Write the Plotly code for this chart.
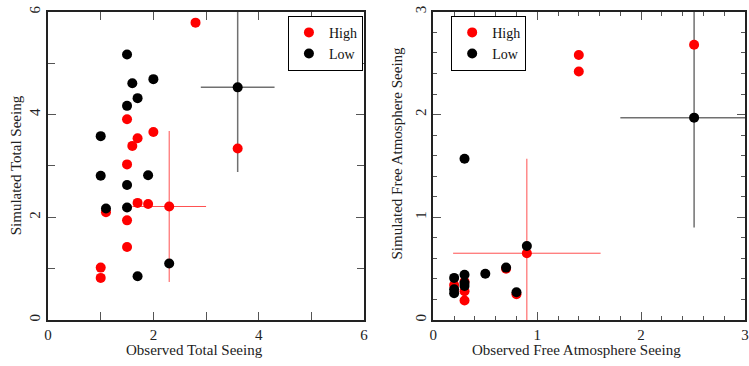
import plotly.graph_objects as go

# ---------------- Data ----------------
# Left panel: Observed vs Simulated Total Seeing
tot_high_x = [2.8, 1.5, 2.0, 1.7, 1.6, 3.6, 1.5, 1.7, 1.9, 2.3, 1.1, 1.5, 1.5, 1.0, 1.0]
tot_high_y = [5.79, 3.91, 3.66, 3.54, 3.39, 3.34, 3.03, 2.28, 2.26, 2.21, 2.10, 1.94, 1.42, 1.02, 0.82]
tot_low_x = [1.5, 1.6, 2.0, 1.7, 1.5, 1.0, 3.6, 1.0, 1.9, 1.5, 1.1, 1.5, 2.3, 1.7]
tot_low_y = [5.17, 4.61, 4.69, 4.32, 4.17, 3.58, 4.53, 2.81, 2.82, 2.63, 2.17, 2.19, 1.10, 0.85]

# error bars (one point per group)
tot_high_err_x = [2.3]
tot_high_err_y = [2.21]
tot_high_err_dx = [0.7]
tot_high_err_dy = [1.47]
tot_low_err_x = [3.6]
tot_low_err_y = [4.53]
tot_low_err_dx = [0.7]
tot_low_err_dy = [1.65]

# Right panel: Observed vs Simulated Free Atmosphere Seeing
fa_high_x = [1.4, 1.4, 2.51, 0.9, 0.7, 0.8, 0.2, 0.3, 0.3, 0.3]
fa_high_y = [2.58, 2.42, 2.68, 0.65, 0.50, 0.25, 0.34, 0.375, 0.28, 0.19]
fa_low_x = [2.51, 0.3, 0.9, 0.7, 0.5, 0.8, 0.2, 0.2, 0.2, 0.3, 0.3, 0.3]
fa_low_y = [1.97, 1.57, 0.72, 0.51, 0.45, 0.27, 0.41, 0.30, 0.26, 0.44, 0.36, 0.33]

fa_high_err_x = [0.9]
fa_high_err_y = [0.65]
fa_high_err_dx = [0.71]
fa_high_err_dy = [0.92]
fa_low_err_x = [2.51]
fa_low_err_y = [1.97]
fa_low_err_dx = [0.71]
fa_low_err_dy = [1.07]

group_names = ["High", "Low"]

# ---------------- Styles ----------------
FONT = "Liberation Serif, Times New Roman, serif"
RED = "#ff0000"
BLACK = "#000000"
ERR_RED = "#ff5050"
ERR_GRAY = "#707070"
MSIZE = 10

fig = go.Figure()


def err_trace(x, y, dx, dy, color, thick, xa, ya):
    return go.Scatter(
        x=x, y=y, mode="markers", xaxis=xa, yaxis=ya,
        marker=dict(size=1, color="rgba(0,0,0,0)"),
        error_x=dict(type="data", array=dx, color=color, thickness=thick, width=0),
        error_y=dict(type="data", array=dy, color=color, thickness=thick, width=0),
        showlegend=False, hoverinfo="skip",
    )


# left panel
fig.add_trace(err_trace(tot_high_err_x, tot_high_err_y, tot_high_err_dx, tot_high_err_dy, ERR_RED, 1, "x", "y"))
fig.add_trace(err_trace(tot_low_err_x, tot_low_err_y, tot_low_err_dx, tot_low_err_dy, ERR_GRAY, 1.5, "x", "y"))
fig.add_trace(go.Scatter(x=tot_high_x, y=tot_high_y, mode="markers", name=group_names[0],
                         marker=dict(size=MSIZE, color=RED), xaxis="x", yaxis="y", legend="legend"))
fig.add_trace(go.Scatter(x=tot_low_x, y=tot_low_y, mode="markers", name=group_names[1],
                         marker=dict(size=MSIZE, color=BLACK), xaxis="x", yaxis="y", legend="legend"))

# right panel
fig.add_trace(err_trace(fa_high_err_x, fa_high_err_y, fa_high_err_dx, fa_high_err_dy, ERR_RED, 1, "x2", "y2"))
fig.add_trace(err_trace(fa_low_err_x, fa_low_err_y, fa_low_err_dx, fa_low_err_dy, ERR_GRAY, 1.5, "x2", "y2"))
fig.add_trace(go.Scatter(x=fa_high_x, y=fa_high_y, mode="markers", name=group_names[0],
                         marker=dict(size=MSIZE, color=RED), xaxis="x2", yaxis="y2", legend="legend2"))
fig.add_trace(go.Scatter(x=fa_low_x, y=fa_low_y, mode="markers", name=group_names[1],
                         marker=dict(size=MSIZE, color=BLACK), xaxis="x2", yaxis="y2", legend="legend2"))

W, H = 749, 366
ydom = [(H - 321) / H, (H - 6) / H]

axis_common = dict(
    showgrid=False, zeroline=False, showline=True, linecolor="#222222", linewidth=1.5,
    mirror="allticks", ticks="inside", tickcolor="#555555", ticklen=8, tickwidth=1,
    tickfont=dict(family=FONT, size=15, color="#222222"),
)

legend_common = dict(
    xanchor="left", yanchor="top", bordercolor="#000000", borderwidth=1, bgcolor="white",
    font=dict(family=FONT, size=14, color="#111111"), itemwidth=30, tracegroupgap=0,
)

fig.update_layout(
    width=W, height=H,
    margin=dict(l=0, r=0, t=0, b=0),
    paper_bgcolor="white", plot_bgcolor="white",
    font=dict(family=FONT, size=15, color="#222222"),
    xaxis=dict(domain=[44.5 / W, 364 / W], range=[0, 6], dtick=2, tick0=0,
               minor=dict(dtick=1, ticklen=8, ticks="inside", tickcolor="#555555"),
               anchor="y", **axis_common),
    yaxis=dict(domain=ydom, range=[0, 6], dtick=2, tick0=0, tickangle=-90,
               minor=dict(dtick=1, ticklen=7, ticks="inside", tickcolor="#555555"),
               anchor="x", **axis_common),
    xaxis2=dict(domain=[434 / W, 1.0], range=[0, 3], dtick=1, tick0=0,
                minor=dict(dtick=0.2, ticklen=4, ticks="inside", tickcolor="#555555"),
                anchor="y2", **axis_common),
    yaxis2=dict(domain=ydom, range=[0, 3], dtick=1, tick0=0, tickangle=-90,
                minor=dict(dtick=0.2, ticklen=4, ticks="inside", tickcolor="#555555"),
                anchor="x2", **axis_common),
    legend=dict(x=287 / W, y=1 - 10 / H, **legend_common),
    legend2=dict(x=452 / W, y=1 - 10 / H, **legend_common),
    showlegend=True,
)

# Axis titles placed as text annotations (paper pixel positions)
titles = [
    ("Observed Total Seeing", 193, 352, 0),
    ("Simulated Total Seeing", 13, 163, -90),
    ("Observed Free Atmosphere Seeing", 579, 352, 0),
    ("Simulated Free Atmosphere Seeing", 397, 150, -90),
]
for txt, px, py, ang in titles:
    fig.add_annotation(text=txt, x=px / W, y=1 - py / H, xref="paper", yref="paper",
                       showarrow=False, textangle=ang, xanchor="center", yanchor="middle",
                       font=dict(family=FONT, size=15, color="#222222"))

fig.write_html("out.html", config={"displayModeBar": False})

# remove the browser's default page margin so the figure sits at the window's corner
with open("out.html", encoding="utf-8") as f:
    html = f.read()
html = html.replace("<head>", "<head><style>html,body{margin:0;padding:0;overflow:hidden;}</style>", 1)
with open("out.html", "w", encoding="utf-8") as f:
    f.write(html)
